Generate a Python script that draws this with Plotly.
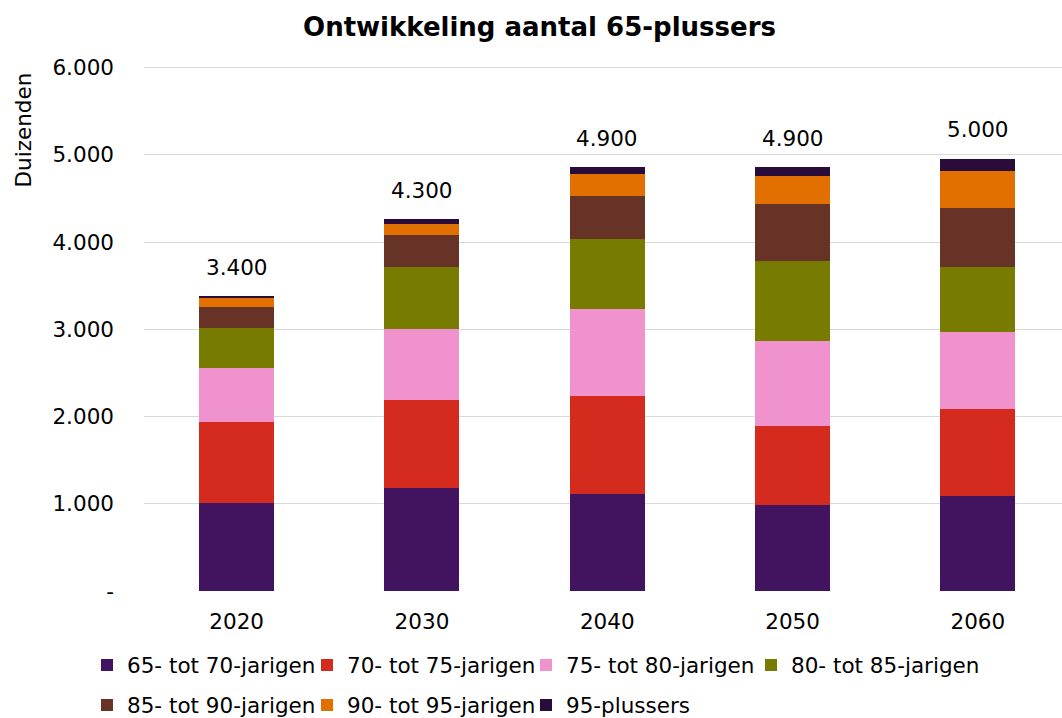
import plotly.graph_objects as go

years = ["2020", "2030", "2040", "2050", "2060"]
series_names = ["65- tot 70-jarigen", "70- tot 75-jarigen", "75- tot 80-jarigen",
                "80- tot 85-jarigen", "85- tot 90-jarigen", "90- tot 95-jarigen", "95-plussers"]
v65_70 = [1010, 1182, 1109, 983, 1086]
v70_75 = [924, 1004, 1122, 905, 996]
v75_80 = [626, 821, 1005, 973, 883]
v80_85 = [450, 706, 802, 921, 752]
v85_90 = [249, 371, 496, 649, 668]
v90_95 = [95, 126, 252, 332, 428]
v95plus = [27, 53, 73, 96, 145]
total_labels = ["3.400", "4.300", "4.900", "4.900", "5.000"]
y_tickvals = [0, 1000, 2000, 3000, 4000, 5000, 6000]
y_ticktext = ["-", "1.000", "2.000", "3.000", "4.000", "5.000", "6.000"]

colors = ["#42145F", "#D52B1E", "#F092CD", "#777C00", "#673327", "#E17000", "#2A0C3A"]
series = [v65_70, v70_75, v75_80, v80_85, v85_90, v90_95, v95plus]

# legend entry placement (pixels in the 1062x718 canvas): left edge x, row centre y
legend_pos = [(87, 665), (307, 665), (526, 665), (751, 665),
              (87, 705), (307, 705), (526, 705)]

FONT = "DejaVu Sans"
FS = 21.5
fig = go.Figure()
legend_layout = {}
for k, (name, vals, col) in enumerate(zip(series_names, series, colors)):
    lid = "legend" if k == 0 else f"legend{k + 1}"
    fig.add_trace(go.Bar(x=years, y=vals, name=name, legend=lid,
                         marker=dict(color=col, line=dict(width=0)), width=0.405))
    px, py = legend_pos[k]
    legend_layout[lid] = dict(orientation="h", xref="container", yref="container",
                              x=px / 1062, y=1 - py / 718, xanchor="left", yanchor="middle",
                              font=dict(family=FONT, size=FS, color="#000000"),
                              itemwidth=30, bgcolor="rgba(0,0,0,0)")

totals = [sum(s[i] for s in series) for i in range(len(years))]
for i, (tot, lab) in enumerate(zip(totals, total_labels)):
    fig.add_annotation(x=i, y=tot, xref="x", yref="y", text=lab, showarrow=False,
                       xanchor="center", yanchor="middle", yshift=29,
                       font=dict(family=FONT, size=FS, color="#000000"))

fig.add_annotation(xref="paper", yref="paper", x=-0.131, y=0.877, text="Duizenden", textangle=-90,
                   xanchor="center", yanchor="middle",
                   showarrow=False, font=dict(family=FONT, size=FS, color="#000000"))

fig.update_layout(
    width=1062, height=718,
    barmode="stack",
    paper_bgcolor="white", plot_bgcolor="white",
    margin=dict(l=144, r=0, t=65, b=127),
    title=dict(text="<b>Ontwikkeling aantal 65-plussers</b>", x=0.508, xanchor="center",
               y=1 - 27 / 718, yanchor="middle", font=dict(family=FONT, size=26, color="#000000")),
    font=dict(family=FONT, size=FS, color="#000000"),
    xaxis=dict(type="category", range=[-0.5, 4.454], showgrid=False, showline=False,
               ticks="", ticklabelstandoff=15, tickfont=dict(family=FONT, size=FS)),
    yaxis=dict(range=[0, 6030], tickvals=y_tickvals, ticktext=y_ticktext, showgrid=True,
               gridcolor="#D9D9D9", gridwidth=1, zeroline=False, showline=False,
               ticks="", ticklabelstandoff=29, tickfont=dict(family=FONT, size=FS)),
    showlegend=True,
    **legend_layout,
)
fig.write_html("out.html", config={"displayModeBar": False},
               post_script="document.body.style.margin='0';document.body.style.overflow='hidden';")
